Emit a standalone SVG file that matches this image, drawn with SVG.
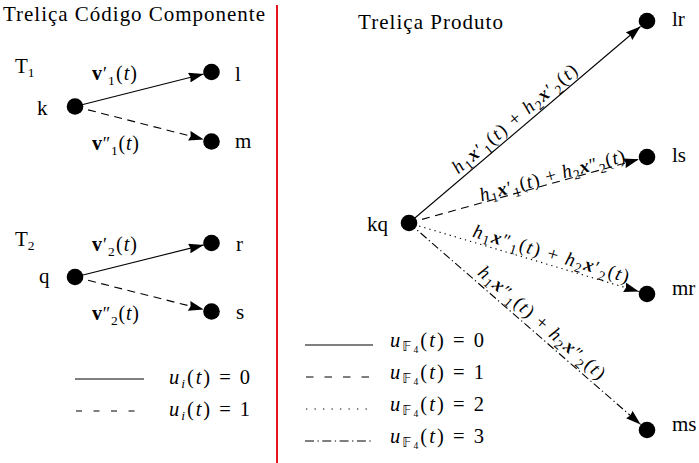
<svg xmlns="http://www.w3.org/2000/svg" width="699" height="463" viewBox="0 0 699 463">
<style>
text{font-family:"Liberation Serif","DejaVu Sans",serif;font-size:20px;fill:#000}
.tt{font-size:21px}
.nl{font-size:21px}
.el{font-size:19px}
.lg{font-size:20.5px}
.b{font-weight:bold}
.i{font-style:italic}
.bi{font-weight:bold;font-style:italic}
.sub{font-size:13.5px}
.ss{font-size:9.5px}
.pr{font-size:18px}
.e{fill:none;stroke:#000;stroke-width:1.1}
.dash{stroke-dasharray:8 5.5}
.dot{stroke-dasharray:1.3 4}
.dd{stroke-dasharray:8 3 1.3 3}
.node{fill:#000}
</style>
<defs>
<marker id="arr" viewBox="0 0 15 10" refX="15" refY="5" markerWidth="15" markerHeight="10" markerUnits="userSpaceOnUse" orient="auto">
<path d="M0,0 L15,5 L0,10 L1.5,5 z" fill="#000"/>
</marker>
</defs>
<rect width="699" height="463" fill="#fff"/>
<line x1="277" y1="5" x2="277" y2="463" stroke="#e8141c" stroke-width="2"/>
<text class="tt" x="3" y="21" textLength="262" lengthAdjust="spacing">Treliça Código Componente</text>
<text class="tt" x="358" y="29" textLength="145" lengthAdjust="spacing">Treliça Produto</text>
<text class="nl" x="15" y="73">T<tspan class="sub" dy="4">1</tspan></text>
<text class="nl" x="15" y="246">T<tspan class="sub" dy="4">2</tspan></text>

<g id="connectors">
<line class="e" x1="75" y1="106.5" x2="203.7" y2="74" marker-end="url(#arr)"/>
<line class="e dash" x1="75" y1="106.5" x2="203.8" y2="139.5" marker-end="url(#arr)"/>
<line class="e" x1="75" y1="277" x2="203.7" y2="244.9" marker-end="url(#arr)"/>
<line class="e dash" x1="75" y1="277" x2="203.7" y2="309.5" marker-end="url(#arr)"/>
<line class="e" x1="409" y1="223" x2="640.5" y2="26.5" marker-end="url(#arr)"/>
<line class="e dash" x1="409" y1="223" x2="638.8" y2="159.3" marker-end="url(#arr)"/>
<line class="e dot" x1="409" y1="223" x2="638.9" y2="291.6" marker-end="url(#arr)"/>
<line class="e dd" x1="409" y1="223" x2="640.6" y2="424.4" marker-end="url(#arr)"/>
<text x="92" y="80" textLength="45" lengthAdjust="spacing"><tspan class="b">v</tspan><tspan class="pr">′</tspan><tspan class="sub" dy="5">1</tspan><tspan dy="-5">(</tspan><tspan class="i">t</tspan>)</text>
<text x="92" y="150" textLength="47" lengthAdjust="spacing"><tspan class="b">v</tspan><tspan class="pr">″</tspan><tspan class="sub" dy="5">1</tspan><tspan dy="-5">(</tspan><tspan class="i">t</tspan>)</text>
<text x="92" y="251" textLength="45" lengthAdjust="spacing"><tspan class="b">v</tspan><tspan class="pr">′</tspan><tspan class="sub" dy="5">2</tspan><tspan dy="-5">(</tspan><tspan class="i">t</tspan>)</text>
<text x="92" y="320" textLength="47" lengthAdjust="spacing"><tspan class="b">v</tspan><tspan class="pr">″</tspan><tspan class="sub" dy="5">2</tspan><tspan dy="-5">(</tspan><tspan class="i">t</tspan>)</text>
<text class="el" text-anchor="middle" textLength="158" lengthAdjust="spacing" transform="translate(521.8,127.3) rotate(-40.3)" y="-5"><tspan class="i">h</tspan><tspan class="sub" dy="4">1</tspan><tspan class="bi" dy="-4">x</tspan><tspan class="pr">′</tspan><tspan class="sub" dy="5">1</tspan><tspan dy="-5">(</tspan><tspan class="i">t</tspan>) + <tspan class="i">h</tspan><tspan class="sub" dy="4">2</tspan><tspan class="bi" dy="-4">x</tspan><tspan class="pr">′</tspan><tspan class="sub" dy="5">2</tspan><tspan dy="-5">(</tspan><tspan class="i">t</tspan>)</text>
<text class="el" text-anchor="middle" textLength="150" lengthAdjust="spacing" transform="translate(554.2,182.8) rotate(-15.5)" y="-1.5"><tspan class="i">h</tspan><tspan class="sub" dy="4">1</tspan><tspan class="bi" dy="-4">x</tspan><tspan class="pr">′</tspan><tspan class="sub" dy="5">1</tspan><tspan dy="-5">(</tspan><tspan class="i">t</tspan>) + <tspan class="i">h</tspan><tspan class="sub" dy="4">2</tspan><tspan class="bi" dy="-4">x</tspan><tspan class="pr">″</tspan><tspan class="sub" dy="5">2</tspan><tspan dy="-5">(</tspan><tspan class="i">t</tspan>)</text>
<text class="el" text-anchor="middle" textLength="162" lengthAdjust="spacing" transform="translate(548,264.5) rotate(16.6)" y="-5"><tspan class="i">h</tspan><tspan class="sub" dy="4">1</tspan><tspan class="bi" dy="-4">x</tspan><tspan class="pr">″</tspan><tspan class="sub" dy="5">1</tspan><tspan dy="-5">(</tspan><tspan class="i">t</tspan>) + <tspan class="i">h</tspan><tspan class="sub" dy="4">2</tspan><tspan class="bi" dy="-4">x</tspan><tspan class="pr">′</tspan><tspan class="sub" dy="5">2</tspan><tspan dy="-5">(</tspan><tspan class="i">t</tspan>)</text>
<text class="el" text-anchor="middle" textLength="162" lengthAdjust="spacing" transform="translate(534,331.7) rotate(41)" y="-6"><tspan class="i">h</tspan><tspan class="sub" dy="4">1</tspan><tspan class="bi" dy="-4">x</tspan><tspan class="pr">″</tspan><tspan class="sub" dy="5">1</tspan><tspan dy="-5">(</tspan><tspan class="i">t</tspan>) + <tspan class="i">h</tspan><tspan class="sub" dy="4">2</tspan><tspan class="bi" dy="-4">x</tspan><tspan class="pr">″</tspan><tspan class="sub" dy="5">2</tspan><tspan dy="-5">(</tspan><tspan class="i">t</tspan>)</text>
</g>

<g id="node-k"><circle class="node" cx="75" cy="106.5" r="8.3"/><text class="nl" x="37" y="115">k</text></g>
<g id="node-l"><circle class="node" cx="211.5" cy="72" r="8.3"/><text class="nl" x="235" y="81">l</text></g>
<g id="node-m"><circle class="node" cx="211.5" cy="141.5" r="8.3"/><text class="nl" x="235" y="148">m</text></g>
<g id="node-q"><circle class="node" cx="75" cy="277" r="8.3"/><text class="nl" x="39" y="283">q</text></g>
<g id="node-r"><circle class="node" cx="211.5" cy="243" r="8.3"/><text class="nl" x="236" y="251">r</text></g>
<g id="node-s"><circle class="node" cx="211.5" cy="311.5" r="8.3"/><text class="nl" x="236" y="319">s</text></g>
<g id="node-kq"><circle class="node" cx="409" cy="223" r="8.3"/><text class="nl" x="367" y="231">kq</text></g>
<g id="node-lr"><circle class="node" cx="647" cy="21" r="8.3"/><text class="nl" x="672" y="26">lr</text></g>
<g id="node-ls"><circle class="node" cx="647" cy="157" r="8.3"/><text class="nl" x="672" y="162">ls</text></g>
<g id="node-mr"><circle class="node" cx="647" cy="294" r="8.3"/><text class="nl" x="672" y="295">mr</text></g>
<g id="node-ms"><circle class="node" cx="647" cy="430" r="8.3"/><text class="nl" x="672" y="431">ms</text></g>

<g id="legend-left">
<line class="e" x1="75" y1="379" x2="144" y2="379"/>
<line class="e" x1="76" y1="411" x2="135" y2="411" stroke-dasharray="6 11.5"/>
<text class="lg" x="169" y="384" textLength="81" lengthAdjust="spacing"><tspan class="i">u</tspan><tspan class="sub i" dy="4">i</tspan><tspan dy="-4">(</tspan><tspan class="i">t</tspan>) = 0</text>
<text class="lg" x="169" y="416" textLength="81" lengthAdjust="spacing"><tspan class="i">u</tspan><tspan class="sub i" dy="4">i</tspan><tspan dy="-4">(</tspan><tspan class="i">t</tspan>) = 1</text>
</g>
<g id="legend-right">
<line class="e" x1="305" y1="345" x2="373" y2="345"/>
<line class="e" x1="306" y1="377" x2="372" y2="377" stroke-dasharray="7.5 11"/>
<line class="e" x1="306" y1="409" x2="372" y2="409" stroke-dasharray="1.3 7.2"/>
<line class="e" x1="305" y1="441" x2="373" y2="441" stroke-dasharray="9 3.5 1.3 3.5"/>
<text class="lg" x="390" y="347" textLength="94" lengthAdjust="spacing"><tspan class="i">u</tspan><tspan class="sub" dy="4">𝔽</tspan><tspan class="ss" dy="2">4</tspan><tspan dy="-6">(</tspan><tspan class="i">t</tspan>) = 0</text>
<text class="lg" x="390" y="379" textLength="94" lengthAdjust="spacing"><tspan class="i">u</tspan><tspan class="sub" dy="4">𝔽</tspan><tspan class="ss" dy="2">4</tspan><tspan dy="-6">(</tspan><tspan class="i">t</tspan>) = 1</text>
<text class="lg" x="390" y="411" textLength="94" lengthAdjust="spacing"><tspan class="i">u</tspan><tspan class="sub" dy="4">𝔽</tspan><tspan class="ss" dy="2">4</tspan><tspan dy="-6">(</tspan><tspan class="i">t</tspan>) = 2</text>
<text class="lg" x="390" y="443" textLength="94" lengthAdjust="spacing"><tspan class="i">u</tspan><tspan class="sub" dy="4">𝔽</tspan><tspan class="ss" dy="2">4</tspan><tspan dy="-6">(</tspan><tspan class="i">t</tspan>) = 3</text>
</g>
</svg>
